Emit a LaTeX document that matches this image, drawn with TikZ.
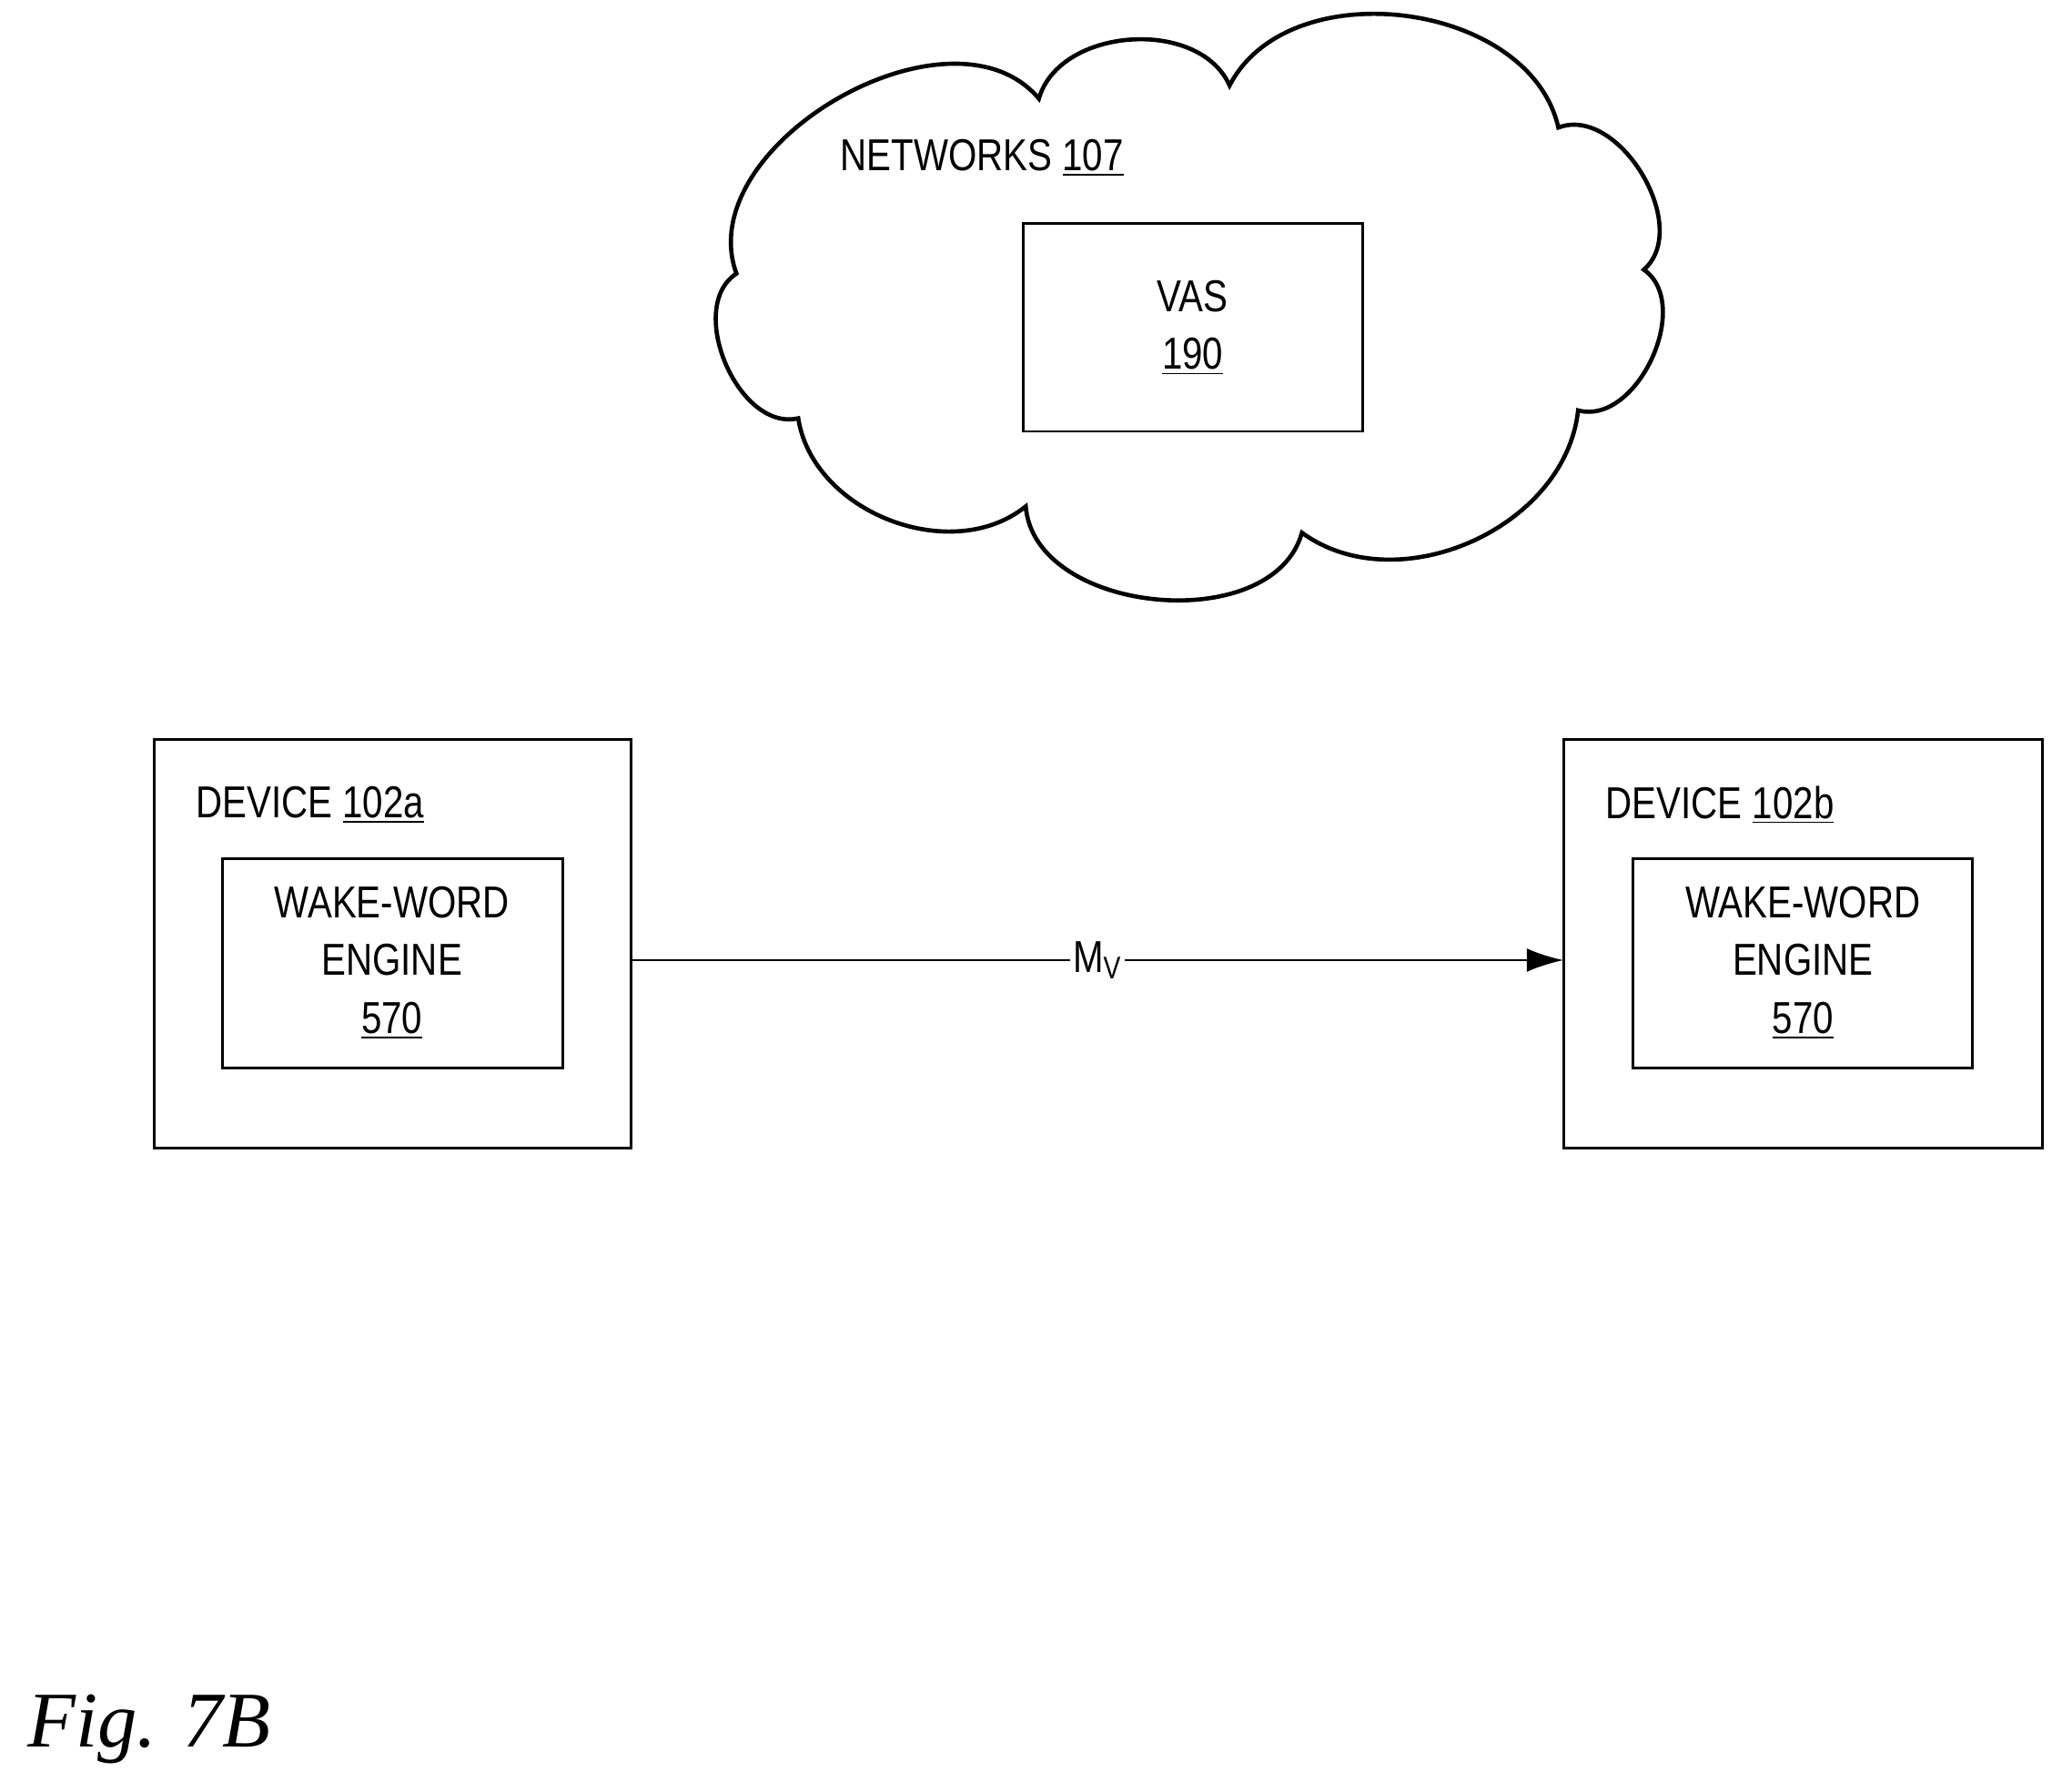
\documentclass[tikz,border=0pt]{standalone}
\usepackage{fontspec}
\setmainfont{Liberation Sans}[FakeStretch=0.82]
\newfontfamily\figfont{Liberation Serif}
\usetikzlibrary{arrows.meta}
\begin{document}
\begin{tikzpicture}[x=0.5pt,y=-0.5pt,
  box/.style={draw,line width=1pt},
  lbl/.style={font=\fontsize{17}{20}\selectfont,align=center}]
\useasboundingbox (0,0) rectangle (1568,1362);
\draw[line width=1.6pt] (560,208) to[bend left=80] (790,75) to[bend left=70] (935,65)
  to[bend left=70] (1185,97) to[bend left=80] (1250,205) to[bend left=80] (1200,312)
  to[bend left=60] (990,405) to[bend left=80] (780,385) to[bend left=60] (607,318)
  to[bend left=80] (560,208) -- cycle;
\node[lbl,anchor=west] (net) at (632,120) {NETWORKS \underline{107}};
\draw[box] (778,170) rectangle (1036,328);
\node[lbl] (vas) at (907,249) {VAS\\[2pt]\underline{190}};
\draw[box] (117,562) rectangle (480,873);
\coordinate (aR) at (480,730);
\node[lbl,anchor=west] (da) at (142,612) {DEVICE \underline{102a}};
\draw[box] (169,653) rectangle (428,812);
\node[lbl] (wa) at (298,732) {WAKE-WORD\\[2pt]ENGINE\\[2pt]\underline{570}};
\draw[box] (1189,562) rectangle (1553,873);
\coordinate (bL) at (1189,730);
\node[lbl,anchor=west] (db) at (1214,612) {DEVICE \underline{102b}};
\draw[box] (1242,653) rectangle (1500,812);
\node[lbl] (wb) at (1371,732) {WAKE-WORD\\[2pt]ENGINE\\[2pt]\underline{570}};
\draw[line width=1pt,-{Latex[length=14pt,width=9pt]}] (aR) -- node[fill=white,inner sep=1pt,lbl]{M\textsubscript{V}} (bL);
\node[anchor=west,font=\fontsize{30}{34}\selectfont\figfont\itshape] (fig) at (14,1315) {Fig. 7B};
\end{tikzpicture}
\end{document}
